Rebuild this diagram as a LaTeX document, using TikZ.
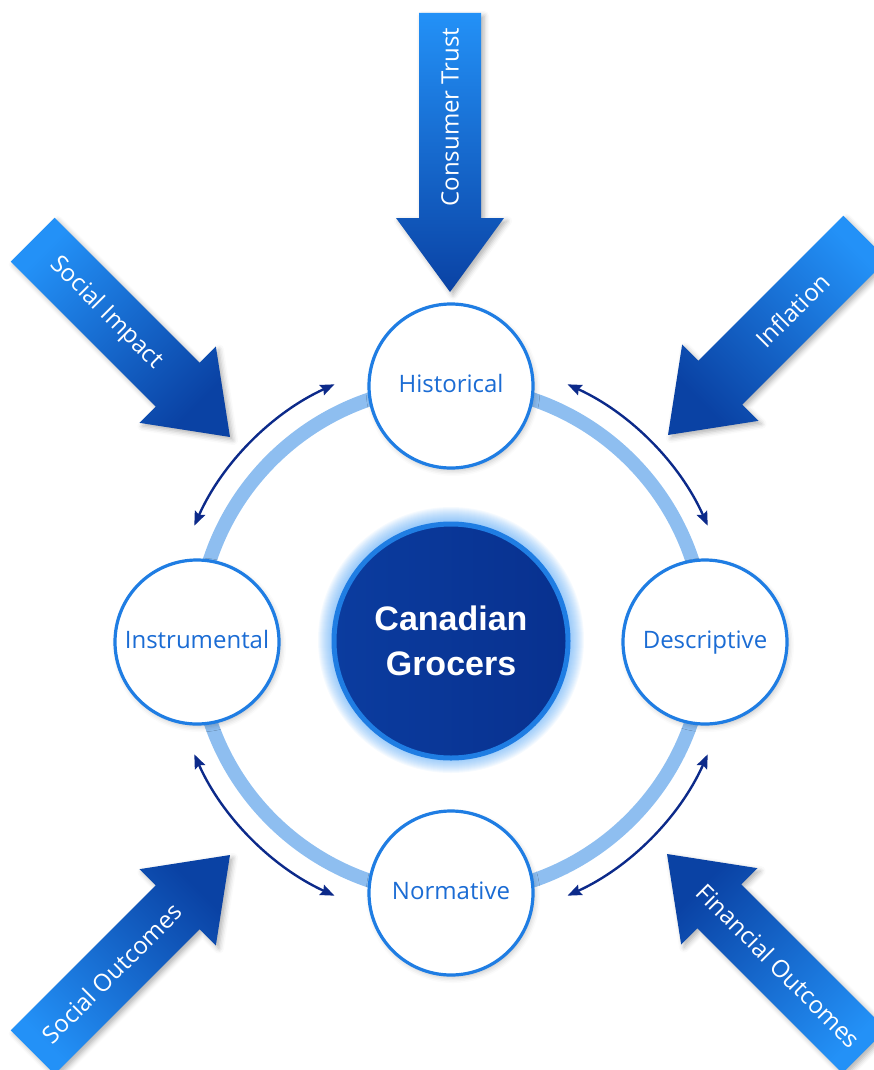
\documentclass[tikz,border=0pt]{standalone}
\usepackage{fontspec}
\setmainfont{Open Sans}
\newfontfamily\corefont{Liberation Sans}
\usetikzlibrary{arrows.meta,shadows.blur,calc}

\definecolor{arrowlight}{HTML}{2391F7}
\definecolor{arrowdark}{HTML}{0A42A4}
\definecolor{ringblue}{HTML}{8EBEF0}
\definecolor{edgeblue}{HTML}{1F7DE3}
\definecolor{labelblue}{HTML}{1B6CD4}
\definecolor{navy}{HTML}{0C2A8A}
\definecolor{corelight}{HTML}{0B3C9F}
\definecolor{coredark}{HTML}{08318F}
\definecolor{glowblue}{HTML}{4EA2F5}

% block arrow: #1 label name, #2 tail point, #3 direction, #4 shading angle,
% #5 label rotation, #6 label position along the shaft, #7 label text
\newcommand\inflow[7]{%
  \begin{scope}[shift={#2}, rotate=#3]
    \path[blockarrow, shading angle=#4]
      (0,-31) -- (205,-31) -- (205,-54) -- (279,0) -- (205,54) -- (205,31) -- (0,31) -- cycle;
    \node[flowtext, rotate=#5] (#1) at (#6,0) {#7};
  \end{scope}}

\begin{document}
\begin{tikzpicture}[x=1pt, y=-1pt,
  blockarrow/.style={top color=arrowlight, bottom color=arrowdark,
    blur shadow={shadow xshift=3pt, shadow yshift=-3pt, shadow blur radius=5pt, shadow opacity=30}},
  flowtext/.style={text=white, inner sep=0pt, font=\fontsize{24}{27}\selectfont},
  stage/.style={circle, draw=edgeblue, line width=3.2pt, fill=white, minimum size=164pt,
    inner sep=0pt, text=labelblue, text height=17pt, text depth=5pt,
    font=\fontsize{24}{28}\selectfont,
    blur shadow={shadow xshift=2pt, shadow yshift=-3pt, shadow blur radius=5pt, shadow opacity=22}},
  core/.style={circle, draw=edgeblue, line width=5pt, left color=corelight, right color=coredark,
    minimum size=234pt, inner sep=0pt, align=center, text=white,
    font=\corefont\bfseries\fontsize{34}{45}\selectfont},
  swap/.style={navy, line width=2.4pt, {Stealth[length=14pt,width=11pt,inset=2pt]}-{Stealth[length=14pt,width=11pt,inset=2pt]}}
]
\useasboundingbox (0,0) rectangle (874,1070);

\coordinate (hub) at (451,640);

% outer ring joining the four stages
\draw[ringblue, line width=14pt] (hub) circle[radius=254];

% two-way links between neighbouring stages
\draw[swap] ($(hub)+(-114.5:281)$) arc[start angle=-114.5, end angle=-156, radius=281];
\draw[swap] ($(hub)+(-65.5:281)$) arc[start angle=-65.5, end angle=-24, radius=281];
\draw[swap] ($(hub)+(114.5:281)$) arc[start angle=114.5, end angle=156, radius=281];
\draw[swap] ($(hub)+(65.5:281)$) arc[start angle=65.5, end angle=24, radius=281];

% soft glow behind the core
\foreach \k in {1,...,16}
  \fill[glowblue, opacity=0.055] (hub) circle[radius=117+\k];

\node[core] (grocers) at ($(hub)+(0,1)$) {Canadian\\Grocers};

\node[stage] (historical)   at ($(hub)+(0,-254)$) {Historical};
\node[stage] (normative)    at ($(hub)+(0,253)$)  {Normative};
\node[stage] (instrumental) at ($(hub)+(-254,2)$) {Instrumental};
\node[stage] (descriptive)  at ($(hub)+(254,2)$)  {Descriptive};

% external forces
\inflow{trust}{(450,13)}{-90}{0}{90}{104}{Consumer Trust}
\inflow{impact}{(32.7,239.7)}{-45}{45}{-45}{104}{Social Impact}
\inflow{inflation}{(865.3,237.7)}{-135}{-45}{45}{103}{Inflation}
\inflow{socout}{(32.7,1052.3)}{45}{135}{45}{112}{Social Outcomes}
\inflow{finout}{(864.3,1051.3)}{135}{-135}{-45}{121}{Financial Outcomes}
\end{tikzpicture}
\end{document}
